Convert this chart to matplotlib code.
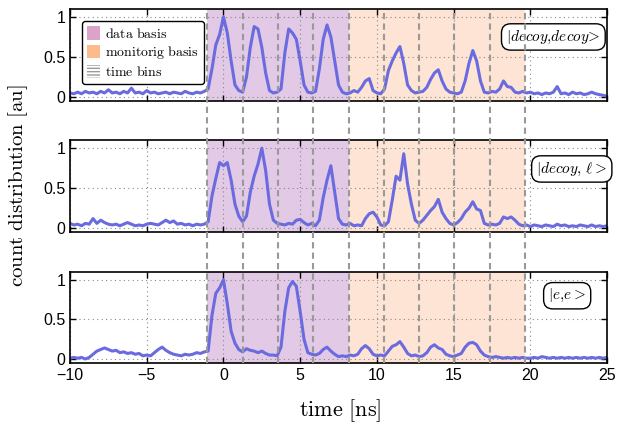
import numpy as np
import matplotlib
matplotlib.use('Agg')
import matplotlib.pyplot as plt
from matplotlib.patches import Patch
from matplotlib.lines import Line2D
from matplotlib.transforms import blended_transform_factory

plt.rcParams['font.family'] = ['Liberation Sans', 'DejaVu Sans']
plt.rcParams['mathtext.fontset'] = 'cm'

# time axis, 0.25 ns sampling from -10 to 25 ns
t = np.linspace(-10, 25, 141)

decoy_decoy = [
    .05, .04, .06, .04, .07, .05, .06, .04, .07, .05, .09, .05, .06, .04, .07, .05, .11, .05,
    .06, .04, .08, .05, .06, .04, .05, .06, .04, .06, .05, .04, .07, .05, .04, .06, .05, .07,
    .10, .35, .65, .78, 1.0, .80, .45, .15, .08, .06,
    .25, .62, .88, .85, .62, .30, .08, .05, .06, .10,
    .55, .85, .80, .72, .45, .15, .06, .05, .07, .35,
    .72, .90, .75, .45, .15, .06, .04, .05, .08, .06,
    .12, .20, .23, .08, .05, .04, .10, .33, .45, .55,
    .63, .42, .15, .08, .05, .06, .07, .12, .22, .30,
    .34, .20, .10, .06, .05, .04, .06, .20, .42, .58,
    .45, .20, .06, .05, .07, .06, .10, .20, .13, .12,
    .06, .05, .07, .05, .06, .04, .05, .03, .05, .04,
    .06, .13, .04, .05, .03, .06, .04, .05, .03, .04,
    .06, .04, .03, .02, .01]

decoy_ell = [
    .06, .04, .05, .03, .06, .05, .12, .06, .10, .07, .05, .04, .05, .03, .05, .07, .05, .03,
    .04, .03, .05, .06, .05, .04, .07, .10, .07, .09, .05, .06, .04, .05, .03, .05, .04, .05,
    .08, .40, .62, .82, .78, .82, .60, .30, .15, .08,
    .15, .45, .65, .80, 1.0, .72, .30, .10, .06, .05,
    .04, .06, .05, .10, .11, .07, .04, .06, .03, .10,
    .38, .60, .78, .45, .12, .05, .04, .06, .03, .04,
    .03, .12, .18, .20, .14, .04, .03, .08, .35, .65,
    .60, .93, .55, .30, .10, .06, .10, .16, .22, .27,
    .36, .20, .12, .06, .04, .07, .12, .20, .25, .33,
    .24, .22, .06, .04, .05, .04, .06, .14, .12, .14,
    .10, .05, .03, .04, .02, .04, .03, .02, .04, .03,
    .02, .05, .03, .04, .02, .03, .02, .04, .03, .02,
    .04, .02, .03, .02, .03]

e_e = [
    .01, .02, .01, .02, .00, .02, .06, .10, .12, .14, .12, .10, .11, .08, .09, .07, .08, .06,
    .07, .04, .05, .04, .08, .12, .15, .11, .08, .06, .05, .04, .06, .05, .06, .08, .07, .09,
    .10, .55, .83, .90, 1.0, .70, .35, .20, .12, .09,
    .13, .11, .10, .08, .10, .07, .05, .05, .04, .15,
    .60, .90, .98, .92, .60, .25, .08, .06, .05, .07,
    .12, .15, .10, .06, .03, .04, .03, .05, .04, .06,
    .13, .17, .13, .06, .04, .05, .04, .10, .16, .18,
    .22, .15, .07, .04, .05, .03, .04, .08, .15, .18,
    .14, .12, .06, .04, .03, .05, .07, .15, .20, .21,
    .18, .10, .05, .03, .02, .03, .02, .01, .02, .01,
    .02, .01, .02, .01, .01, .02, .01, .03, .02, .01,
    .02, .01, .02, .01, .02, .01, .02, .01, .02, .01,
    .02, .01, .02, .01, .02]

series = [decoy_decoy, decoy_ell, e_e]
labels = [r'$|decoy{,}decoy\!>$', r'$|decoy{,}\ \ell>$', r'$|e{,}e>$']
label_pos = [(21.5, 0.75), (22.7, 0.74), (22.4, 0.80)]

bin_start = -1.05
bin_width = 2.3
n_bins = 9
data_end = bin_start + 4 * bin_width
mon_end = bin_start + n_bins * bin_width

line_color = '#6b6be0'
fig = plt.figure(figsize=(6.18, 4.26), dpi=100)
rects = [[0.1133, 0.763, 0.869, 0.216],
         [0.1133, 0.455, 0.869, 0.216],
         [0.1133, 0.148, 0.869, 0.2135]]
axes = []
for i, (r, y) in enumerate(zip(rects, series)):
    ax = fig.add_axes(r)
    ax.axvspan(bin_start, data_end, color='#e2c9e6', lw=0)
    ax.axvspan(data_end, mon_end, color='#fde4d4', lw=0)
    ax.plot(t, y, color=line_color, lw=2.2)
    ax.set_xlim(-10, 25)
    ax.set_ylim(-0.05, 1.1)
    ax.set_yticks([0, 0.5, 1])
    ax.set_yticklabels(['0', '0.5', '1'])
    ax.set_xticks([-10, -5, 0, 5, 10, 15, 20, 25])
    ax.grid(True, ls=(0, (1, 3)), color='#888888', lw=0.8)
    ax.tick_params(direction='in', top=True, right=True, length=4, width=1, labelsize=11.5)
    for s in ax.spines.values():
        s.set_linewidth(1.2)
    if i < 2:
        ax.tick_params(labelbottom=False)
    else:
        ax.set_xticklabels(['\u221210', '\u22125', '0', '5', '10', '15', '20', '25'])
    tx, ty = label_pos[i]
    ax.text(tx, ty, labels[i], fontsize=11, ha='center', va='center',
            bbox=dict(boxstyle='round,pad=0.3,rounding_size=0.6', fc='white', ec='black', lw=1))
    axes.append(ax)

handles = [Patch(facecolor='#dba3c9', edgecolor='none'),
           Patch(facecolor='#fdba8b', edgecolor='none'),
           Patch(facecolor='white', edgecolor='#999999', hatch='-----', lw=0)]
leg = axes[0].legend(handles, [r'$\mathrm{data\ basis}$', r'$\mathrm{monitorig\ basis}$',
                               r'$\mathrm{time\ bins}$'],
                     loc='upper left', bbox_to_anchor=(0.01, 0.94), fontsize=10,
                     handlelength=0.9, handleheight=1.1, handletextpad=0.4,
                     labelspacing=0.25, borderpad=0.35, fancybox=True, framealpha=1,
                     edgecolor='black')
leg.get_frame().set_linewidth(1)

# time bin borders running through all panels
trans = blended_transform_factory(axes[2].transData, fig.transFigure)
for k in range(n_bins + 1):
    xb = bin_start + k * bin_width
    fig.add_artist(Line2D([xb, xb], [0.148, 0.979], transform=trans,
                          color='#999999', lw=1.5, ls=(0, (3, 2))))

fig.text(0.03, 0.565, r'$\mathrm{count\ distribution\ [au]}$', rotation=90,
         ha='center', va='center', fontsize=15)
fig.text(0.55, 0.035, r'$\mathrm{time\ [ns]}$', ha='center', va='center', fontsize=16)

fig.savefig('out.png', dpi=100)
